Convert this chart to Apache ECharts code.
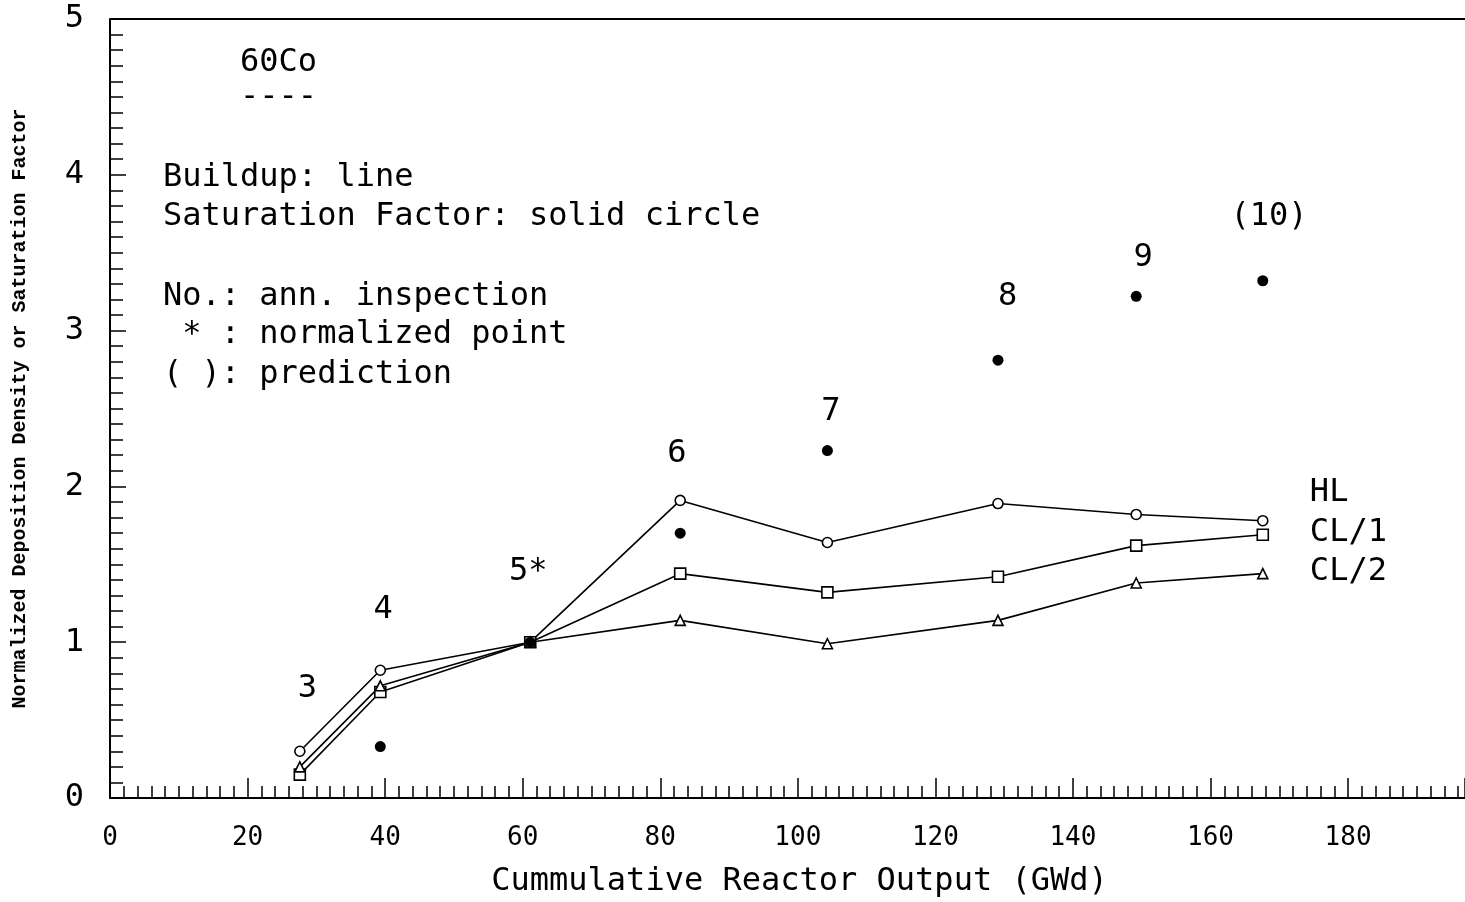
<!DOCTYPE html>
<html>
<head>
<meta charset="utf-8">
<script src="https://cdn.jsdelivr.net/npm/echarts@6/dist/echarts.min.js"></script>
<style>
html,body{margin:0;padding:0;background:#fff;}
#c{width:1465px;height:902px;}
</style>
</head>
<body>
<div id="c"></div>
<script>
// inspection positions (cumulative reactor output, GWd)
var inspX = [27.6, 39.3, 61.1, 82.9, 104.3, 129.1, 149.2, 167.6];
var hlValues  = [0.30, 0.82, 1.00, 1.91, 1.64, 1.89, 1.82, 1.78];
var cl1Values = [0.15, 0.68, 1.00, 1.44, 1.32, 1.42, 1.62, 1.69];
var cl2Values = [0.20, 0.72, 1.00, 1.14, 0.99, 1.14, 1.38, 1.44];
// saturation factor (solid circles)
var satX = [39.3, 61.1, 82.9, 104.3, 129.1, 149.2, 167.6];
var satValues = [0.33, 1.00, 1.70, 2.23, 2.81, 3.22, 3.32];
// annotation numbers (annual inspection)
var annoText = ['3', '4', '5*', '6', '7', '8', '9', '(10)'];
var annoX = [28.7, 39.7, 60.8, 82.4, 104.8, 130.5, 150.2, 168.5];
var annoY = [0.70, 1.21, 1.45, 2.21, 2.48, 3.22, 3.47, 3.73];
// line names
var lineNames = ['HL', 'CL/1', 'CL/2'];
var lineNameX = [174.3, 174.3, 174.3];
var lineNameY = [1.96, 1.70, 1.45];
// axis ticks
var xTickLabels = ['0','20','40','60','80','100','120','140','160','180'];
var yTickLabels = ['0','1','2','3','4','5'];

var FONT = 'DejaVu Sans Mono';
var chart = echarts.init(document.getElementById('c'), null, {renderer:'canvas'});

function pairs(xs, ys){ return xs.map(function(x,i){return [x, ys[i]];}); }

var labelStyle = {fontFamily: FONT, fontSize: 32, color: '#000', opacity: 1, textBorderWidth: 0};

var option = {
  backgroundColor: '#fff',
  animation: false,
  grid: {left: 110, right: 0, top: 19, bottom: 104, containLabel: false, outerBoundsMode: 'none'},
  xAxis: [
    {
      type: 'value', min: 0, max: 197, interval: 2, position: 'bottom',
      axisLine: {show: true, lineStyle: {color: '#000', width: 2}},
      axisTick: {show: true, inside: true, length: 12, lineStyle: {color: '#000', width: 1.5}},
      axisLabel: {show: false},
      splitLine: {show: false}
    },
    {
      type: 'value', min: 0, max: 197, interval: 20, position: 'bottom',
      name: 'Cummulative Reactor Output (GWd)',
      nameLocation: 'middle', nameGap: 68,
      nameTextStyle: {fontFamily: FONT, fontSize: 32, color: '#000', padding: [0, 0, 0, 24]},
      axisLine: {show: false},
      axisTick: {show: true, inside: true, length: 20, lineStyle: {color: '#000', width: 1.5}},
      axisLabel: {show: true, margin: 27, fontFamily: FONT, fontSize: 26, color: '#000',
        formatter: function(v){ var i = Math.round(v/20); return (v % 20 === 0 && i < xTickLabels.length) ? xTickLabels[i] : ''; }},
      splitLine: {show: false}
    }
  ],
  yAxis: [
    {
      type: 'value', min: 0, max: 5, interval: 0.1, position: 'left',
      axisLine: {show: true, lineStyle: {color: '#000', width: 2}},
      axisTick: {show: true, inside: true, length: 13, lineStyle: {color: '#000', width: 1.5}},
      axisLabel: {show: false},
      splitLine: {show: false}
    },
    {
      type: 'value', min: 0, max: 5, interval: 1, position: 'left',
      name: 'Normalized Deposition Density or Saturation Factor',
      nameLocation: 'middle', nameGap: 80, nameRotate: 90,
      nameTextStyle: {fontFamily: 'Liberation Mono', fontWeight: 'bold', fontSize: 20, color: '#000'},
      axisLine: {show: false},
      axisTick: {show: true, inside: true, length: 16, lineStyle: {color: '#000', width: 1.5}},
      axisLabel: {show: true, margin: 26, fontFamily: FONT, fontSize: 32, color: '#000',
        formatter: function(v){ var i = Math.round(v); return yTickLabels[i] || ''; }},
      splitLine: {show: false}
    }
  ],
  graphic: [
    {type: 'line', shape: {x1: 110, y1: 19, x2: 1465, y2: 19}, style: {stroke: '#000', lineWidth: 2}},
    {type: 'text', left: 240, top: 47, style: {text: '60Co', font: '32px "DejaVu Sans Mono"', fill: '#000'}},
    {type: 'text', left: 240, top: 82, style: {text: '----', font: '32px "DejaVu Sans Mono"', fill: '#000'}},
    {type: 'text', left: 163, top: 162, style: {text: 'Buildup: line', font: '32px "DejaVu Sans Mono"', fill: '#000'}},
    {type: 'text', left: 163, top: 201, style: {text: 'Saturation Factor: solid circle', font: '32px "DejaVu Sans Mono"', fill: '#000'}},
    {type: 'text', left: 163, top: 281, style: {text: 'No.: ann. inspection', font: '32px "DejaVu Sans Mono"', fill: '#000'}},
    {type: 'text', left: 163, top: 319, style: {text: ' * : normalized point', font: '32px "DejaVu Sans Mono"', fill: '#000'}},
    {type: 'text', left: 163, top: 359, style: {text: '( ): prediction', font: '32px "DejaVu Sans Mono"', fill: '#000'}}
  ],
  series: [
    {
      name: 'HL', type: 'line', xAxisIndex: 0, yAxisIndex: 0,
      data: pairs(inspX, hlValues),
      symbol: 'circle', symbolSize: 10, showAllSymbol: true,
      lineStyle: {color: '#000', width: 1.6},
      itemStyle: {color: '#fff', borderColor: '#000', borderWidth: 1.6}, z: 3
    },
    {
      name: 'CL/1', type: 'line', xAxisIndex: 0, yAxisIndex: 0,
      data: pairs(inspX, cl1Values),
      symbol: 'rect', symbolSize: 11, showAllSymbol: true,
      lineStyle: {color: '#000', width: 1.6},
      itemStyle: {color: '#fff', borderColor: '#000', borderWidth: 1.6}, z: 3
    },
    {
      name: 'CL/2', type: 'line', xAxisIndex: 0, yAxisIndex: 0,
      data: pairs(inspX, cl2Values),
      symbol: 'triangle', symbolSize: 10, showAllSymbol: true,
      lineStyle: {color: '#000', width: 1.6},
      itemStyle: {color: '#fff', borderColor: '#000', borderWidth: 1.6}, z: 3
    },
    {
      name: 'Saturation Factor', type: 'scatter', xAxisIndex: 0, yAxisIndex: 0,
      data: pairs(satX, satValues),
      symbol: 'circle', symbolSize: 11,
      itemStyle: {color: '#000', opacity: 1}, z: 4
    },
    {
      name: 'inspection no.', type: 'scatter', xAxisIndex: 0, yAxisIndex: 0,
      data: annoX.map(function(x,i){ return {value: [x, annoY[i]], label: {formatter: annoText[i]}}; }),
      symbol: 'circle', symbolSize: 2, itemStyle: {color: 'rgba(255,255,255,0)', opacity: 1}, silent: true,
      label: Object.assign({show: true, position: 'inside'}, labelStyle), z: 5
    },
    {
      name: 'line names', type: 'scatter', xAxisIndex: 0, yAxisIndex: 0,
      data: lineNameX.map(function(x,i){ return {value: [x, lineNameY[i]], label: {formatter: lineNames[i]}}; }),
      symbol: 'circle', symbolSize: 2, itemStyle: {color: 'rgba(255,255,255,0)', opacity: 1}, silent: true,
      label: Object.assign({show: true, position: 'right', distance: 0}, labelStyle), z: 5
    }
  ]
};
chart.setOption(option);
</script>
</body>
</html>
